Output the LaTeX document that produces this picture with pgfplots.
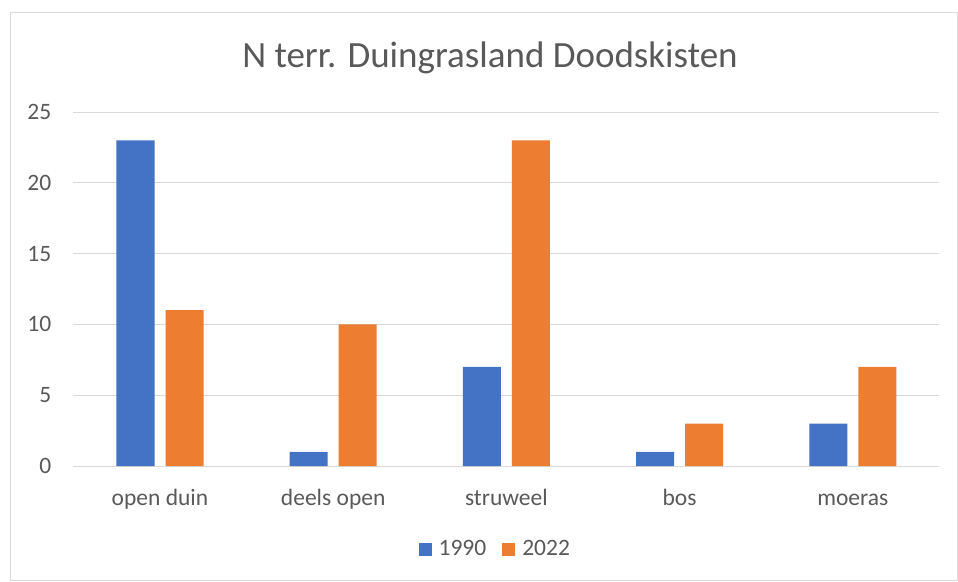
\documentclass[border=0pt]{standalone}
\usepackage{pgfplots}
\pgfplotsset{compat=1.18}
\usepackage{fontspec}
\setmainfont{Carlito}
\definecolor{xblue}{HTML}{4472C4}
\definecolor{xorange}{HTML}{ED7D31}
\definecolor{gridgray}{HTML}{D9D9D9}
\definecolor{txtgray}{HTML}{595959}
\definecolor{framegray}{HTML}{D9D9D9}
\begin{document}
\begin{tikzpicture}
\begin{axis}[
  name=ax,
  scale only axis, width=866pt, height=354pt,
  ymin=0, ymax=25, xmin=-0.5, xmax=4.5,
  ytick={0,5,...,25},
  xtick={0,1,2,3,4},
  xticklabels={open duin,deels open,struweel,bos,moeras},
  ymajorgrids, grid style={color=gridgray, line width=0.8pt},
  separate axis lines,
  axis x line*=bottom, axis y line*=left,
  x axis line style={draw=gridgray, line width=0.8pt, -},
  y axis line style={draw=none},
  major tick length=0pt,
  tick label style={text=txtgray, font=\fontsize{23.5}{28}\selectfont, inner sep=0pt},
  yticklabel style={xshift=-22pt},
  xticklabel style={yshift=-22pt, text height=17pt, text depth=5pt},
  /pgf/number format/assume math mode=true,
  ybar=11pt, bar width=38pt,
  legend columns=2,
  legend style={draw=none, fill=none, at={(0.486,-0.2345)}, anchor=center,
    font=\fontsize{23.5}{28}\selectfont, text=txtgray,
    nodes={inner sep=0pt},
    /tikz/every odd column/.append style={column sep=7pt},
    /tikz/every even column/.append style={column sep=16pt},
    inner sep=0pt, cells={anchor=west}},
  legend image code/.code={\fill[#1] (0pt,-6.5pt) rectangle (13pt,6.5pt);},
]
\addplot[fill=xblue, draw=none] coordinates {(0,23) (1,1) (2,7) (3,1) (4,3)};
\addplot[fill=xorange, draw=none] coordinates {(0,11) (1,10) (2,23) (3,3) (4,7)};
\legend{1990,2022}
\end{axis}
\pgfresetboundingbox
\begin{scope}[shift={(ax.south west)}, xshift=-73.4pt, yshift=-115pt, x=1pt, y=1pt]
\path[use as bounding box] (0,0) rectangle (958,581);
\draw[color=framegray] (10.5,0.5) rectangle (957.5,569);
\node[text=txtgray, font=\fontsize{37}{44}\selectfont] at (490,523) {N terr. Duingrasland Doodskisten};
\end{scope}
\end{tikzpicture}
\end{document}
